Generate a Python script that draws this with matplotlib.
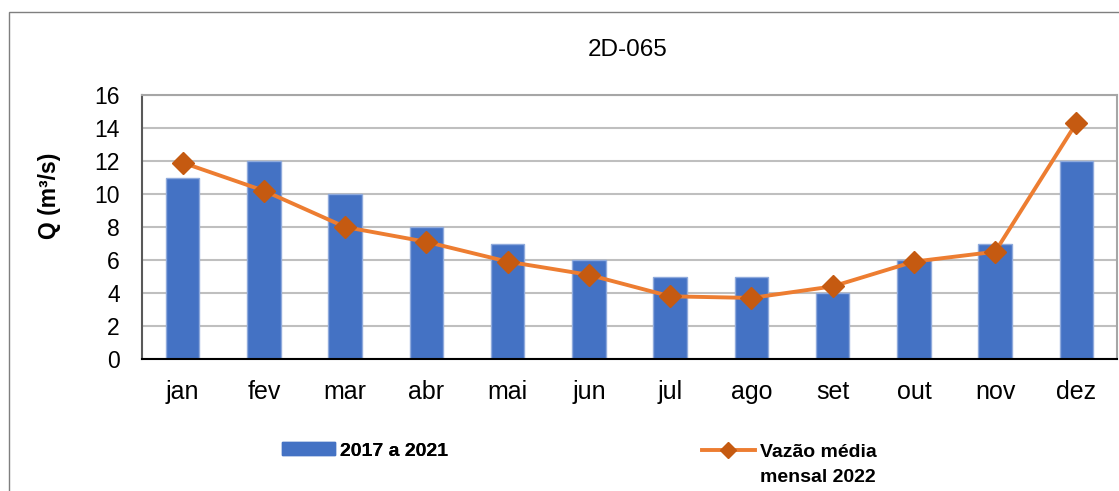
import matplotlib
matplotlib.use("Agg")
import matplotlib.pyplot as plt
from matplotlib.patches import Rectangle, Patch
from matplotlib.lines import Line2D
import numpy as np

months = ["jan", "fev", "mar", "abr", "mai", "jun", "jul", "ago", "set", "out", "nov", "dez"]
hist_2017_2021 = [11, 12, 10, 8, 7, 6, 5, 5, 4, 6, 7, 12]
mean_2022 = [11.9, 10.2, 8.0, 7.1, 5.9, 5.1, 3.8, 3.7, 4.4, 5.9, 6.5, 14.3]
yticks = [0, 2, 4, 6, 8, 10, 12, 14, 16]
title = "2D-065"
ylabel = "Q (m³/s)"
bar_label = "2017 a 2021"
line_label = ["Vazão média", "mensal 2022"]

plt.rcParams['font.family'] = ['Liberation Sans', 'DejaVu Sans']

W, H = 1119, 491
fig = plt.figure(figsize=(W / 100, H / 100), dpi=100)
ax = fig.add_axes([142 / W, 1 - 359 / H, (1117 - 142) / W, (359 - 95) / H])

x = np.arange(len(months))
ax.bar(x, hist_2017_2021, width=0.41, color="#4472C4", edgecolor="#8FAADC",
       linewidth=1.0, zorder=2)
ax.plot(x, mean_2022, color="#ED7D31", linewidth=2.8, marker="D",
        markersize=11, markerfacecolor="#C55A11", markeredgecolor="#C55A11",
        zorder=3)

ax.set_xlim(-0.5, len(months) - 0.5)
ax.set_ylim(0, 16)
ax.set_yticks(yticks)
ax.set_yticklabels([str(v) for v in yticks])
ax.set_xticks(x)
ax.set_xticklabels(months)
ax.tick_params(axis="y", length=0, pad=16, labelsize=16.5)
ax.tick_params(axis="x", length=0, pad=15, labelsize=18)
ax.grid(axis="y", color="#BFBFBF", linewidth=1.5, zorder=0)
ax.set_axisbelow(True)

for side in ["top", "right"]:
    ax.spines[side].set_color("#A6A6A6")
    ax.spines[side].set_linewidth(1.5)
ax.spines["left"].set_color("#595959")
ax.spines["left"].set_linewidth(1.5)
ax.spines["bottom"].set_color("#000000")
ax.spines["bottom"].set_linewidth(1.5)

ax.set_ylabel(ylabel, fontsize=16.5, fontweight="bold")
ax.yaxis.set_label_coords(-0.083, 0.62)

fig.text(628 / W, 1 - 50 / H, title, ha="center", va="center", fontsize=17.5)

# outer chart border
fig.add_artist(Rectangle((9 / W, -0.1), 2.0, 1 - 12 / H + 0.1, transform=fig.transFigure,
                         fill=False, edgecolor="#7F7F7F", linewidth=1.0))

h1 = Patch(facecolor="#4472C4", edgecolor="#4472C4")
leg1 = fig.legend([h1], [bar_label], loc="center left",
                  bbox_to_anchor=(282 / W, 1 - 451 / H), frameon=False,
                  prop={"weight": "bold", "size": 14}, handlelength=2.7,
                  handleheight=0.6, handletextpad=0.3, borderpad=0, borderaxespad=0)
fig.add_artist(leg1)

h2 = Line2D([], [], color="#ED7D31", linewidth=2.8, marker="D", markersize=8,
            markerfacecolor="#C55A11", markeredgecolor="#C55A11")
h_blank = Line2D([], [], linestyle="none")
leg2 = fig.legend([h2, h_blank], line_label, loc="upper left",
                  bbox_to_anchor=(702 / W, 1 - 443 / H), frameon=False,
                  prop={"weight": "bold", "size": 14}, handlelength=2.7,
                  handletextpad=0.3, labelspacing=0.4, borderpad=0, borderaxespad=0)

fig.savefig("out.png", dpi=100)
